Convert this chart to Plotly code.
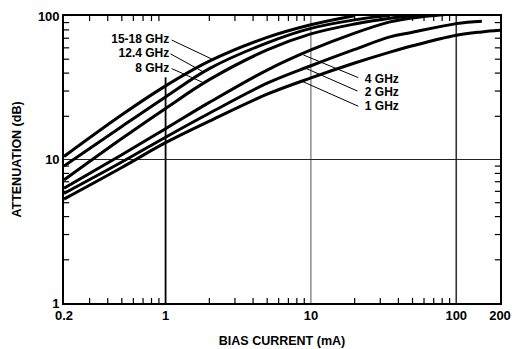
import plotly.graph_objects as go

# Bias current (mA) sample points shared by every curve
bias_ma = [0.2, 0.5, 1, 2, 5, 10, 20, 35, 50, 100, 150, 200]

# Attenuation (dB) per frequency band; None where the curve has left the chart
att_15_18 = [10.5, 20.5, 32.6, 48.5, 71, 87, 100.5, None, None, None, None, None]
att_12_4 = [9.0, 17.0, 27.3, 43, 65, 82, 94, 101, None, None, None, None]
att_8 = [7.2, 14.0, 22.7, 36, 58, 75, 88, 96.5, 100.5, 105, None, None]
att_4 = [6.3, 10.8, 16.4, 25, 42, 58, 76, 91, 97, 104, None, None]
att_2 = [5.8, 9.6, 14.3, 21, 34, 45, 58.5, 71.5, 77, 88.5, 92, None]
att_1 = [5.3, 8.8, 13.1, 18.5, 28.5, 37, 47, 56, 62, 73.5, 77.5, 79.5]

series = [att_15_18, att_12_4, att_8, att_4, att_2, att_1]

# Axis ticks
x_range = [0.2, 200]
y_range = [1, 100]
x_tickvals = [0.2, 1, 10, 100, 200]
x_ticktext = ["0.2", "1", "10", "100", "200"]
x_minor = [0.3, 0.4, 0.5, 0.6, 0.7, 0.8, 0.9,
           2, 3, 4, 5, 6, 7, 8, 9,
           20, 30, 40, 50, 60, 70, 80, 90]
y_tickvals = [1, 10, 100]
y_ticktext = ["1", "10", "100"]
y_minor = [2, 3, 4, 5, 6, 7, 8, 9, 20, 30, 40, 50, 60, 70, 80, 90]

# Band labels with their leader lines (text anchor, leader start, leader end)
left_labels = ["15-18 GHz", "12.4 GHz", "8 GHz"]
left_label_x = [1.06, 1.06, 1.06]
left_label_y = [68.5, 54.5, 43.0]
left_leaders_x = [[1.10, 2.10], [1.08, 1.80], [1.10, 1.80]]
left_leaders_y = [[68.0, 49.9], [54.5, 41.0], [43.0, 34.5]]

right_labels = ["4 GHz", "2 GHz", "1 GHz"]
right_label_x = [23.5, 23.5, 23.5]
right_label_y = [36.0, 29.0, 23.3]
right_leaders_x = [[8.88, 21.2], [9.17, 20.9], [8.74, 21.2]]
right_leaders_y = [[53.5, 37.2], [43.3, 30.0], [35.0, 23.5]]

FONT = "Liberation Sans, Arial, Helvetica, sans-serif"
TICK_FACTOR = 1.085  # inward tick length, as a ratio on the log scale

fig = go.Figure()

# Grid lines
grid_lines = [
    ([1, 1], [1, 37.4], 1.8, "black"),
    ([10, 10], [1, 100], 1.0, "#555555"),
    ([100, 100], [1, 100], 1.6, "#333333"),
    ([0.2, 200], [10, 10], 1.0, "#222222"),
]
for gx, gy, w, c in grid_lines:
    fig.add_trace(go.Scatter(x=gx, y=gy, mode="lines",
                             line=dict(color=c, width=w),
                             hoverinfo="skip", showlegend=False))

# Inward minor ticks on all four sides of the frame
tx, ty = [], []
for v in x_minor:
    tx += [v, v, None, v, v, None]
    ty += [y_range[0], y_range[0] * TICK_FACTOR, None,
           y_range[1], y_range[1] / TICK_FACTOR, None]
for v in y_minor:
    tx += [x_range[0], x_range[0] * TICK_FACTOR, None,
           x_range[1], x_range[1] / TICK_FACTOR, None]
    ty += [v, v, None, v, v, None]
fig.add_trace(go.Scatter(x=tx, y=ty, mode="lines",
                         line=dict(color="black", width=1.2),
                         hoverinfo="skip", showlegend=False))

# Attenuation curves
for ys in series:
    fig.add_trace(go.Scatter(x=bias_ma, y=ys, mode="lines",
                             line=dict(color="black", width=3, shape="spline", smoothing=1.0),
                             showlegend=False))

# Leader lines
for lx, ly in zip(left_leaders_x + right_leaders_x, left_leaders_y + right_leaders_y):
    fig.add_trace(go.Scatter(x=lx, y=ly, mode="lines",
                             line=dict(color="black", width=1),
                             hoverinfo="skip", showlegend=False))

# Labels
fig.add_trace(go.Scatter(x=left_label_x, y=left_label_y, mode="text",
                         text=left_labels, textposition="middle left",
                         textfont=dict(family=FONT, size=12, color="black", weight="bold"),
                         showlegend=False, hoverinfo="skip"))
fig.add_trace(go.Scatter(x=right_label_x, y=right_label_y, mode="text",
                         text=right_labels, textposition="middle right",
                         textfont=dict(family=FONT, size=12, color="black", weight="bold"),
                         showlegend=False, hoverinfo="skip"))

axis_common = dict(
    type="log",
    automargin=False,
    showgrid=False,
    zeroline=False,
    showline=True,
    linecolor="black",
    linewidth=1.6,
    mirror=True,
    ticks="",
    tickfont=dict(family=FONT, size=13, color="black", weight="bold"),
)

fig.update_xaxes(
    **axis_common,
    range=[-0.69897, 2.30103],
    tickmode="array", tickvals=x_tickvals, ticktext=x_ticktext,
    title=dict(text="BIAS CURRENT (mA)", standoff=14,
               font=dict(family=FONT, size=12.5, color="black", weight="bold")),
)
fig.update_yaxes(
    **axis_common,
    range=[0, 2],
    tickmode="array", tickvals=y_tickvals, ticktext=y_ticktext,
    title=dict(text="ATTENUATION (dB)", standoff=14,
               font=dict(family=FONT, size=12.5, color="black", weight="bold")),
)

fig.update_layout(
    width=512, height=349,
    margin=dict(l=64, r=12, t=16, b=46),
    paper_bgcolor="white",
    plot_bgcolor="white",
)

fig.write_html("out.html")
